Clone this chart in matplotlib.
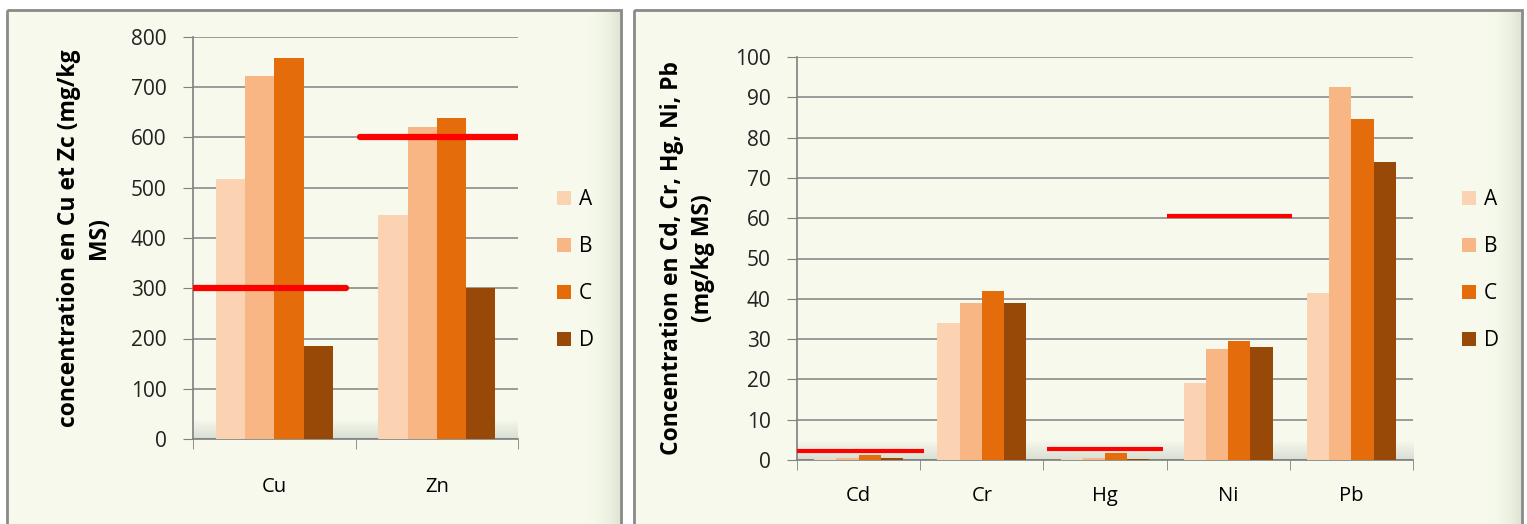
import matplotlib.pyplot as plt
from matplotlib.patches import Rectangle
import numpy as np

plt.rcParams['font.family'] = ['Open Sans', 'DejaVu Sans']

series = ['A', 'B', 'C', 'D']
colors = ['#FCD3B2', '#F9B685', '#E46C0A', '#984807']

# left chart: Cu, Zn
cats1 = ['Cu', 'Zn']
vals1 = {'A': [517, 445], 'B': [722, 620], 'C': [758, 638], 'D': [185, 300]}
limits1 = [300, 600]

# right chart: Cd, Cr, Hg, Ni, Pb
cats2 = ['Cd', 'Cr', 'Hg', 'Ni', 'Pb']
vals2 = {'A': [0.3, 34, 0.3, 19, 41.5],
         'B': [0.5, 39, 0.6, 27.5, 92.5],
         'C': [1.2, 42, 1.7, 29.5, 84.5],
         'D': [0.6, 39, 0.2, 28, 74]}
limits2 = {'Cd': 2.2, 'Hg': 2.7, 'Ni': 60.5}

W, H = 1527, 524
fig = plt.figure(figsize=(W / 100, H / 100), dpi=100)
fig.patch.set_facecolor('white')

# panel backgrounds with a soft bevel shading
bg = fig.add_axes([0, 0, 1, 1])
img = np.ones((H, W, 3))
cream = np.array([0.965, 0.98, 0.925])
shade = np.array([0.80, 0.84, 0.76])
for (x0, x1) in [(7, 621), (634, 1522)]:
    img[10:, x0:x1] = cream
    for i in range(35):
        t = (1 - i / 35) ** 2
        img[10:, x1 - 1 - i] = img[10:, x1 - 1 - i] * (1 - 0.6 * t) + shade * 0.6 * t
bg.imshow(img, extent=[0, W, H, 0], aspect='auto')
bg.add_patch(Rectangle((7, 10), 614, 520, fill=False, ec='#8a8a8a', lw=2))
bg.add_patch(Rectangle((634, 10), 888, 520, fill=False, ec='#8a8a8a', lw=2))
bg.set_xlim(0, W)
bg.set_ylim(H, 0)
bg.axis('off')


def draw(ax, cats, vals, ymax, step, legend_x):
    x = np.arange(len(cats))
    bw = 0.18
    for k, s in enumerate(series):
        ax.bar(x + (k - 1.5) * bw, vals[s], bw, color=colors[k], zorder=3, label=s)
    ax.set_xlim(-0.5, len(cats) - 0.5)
    ax.set_ylim(0, ymax)
    ax.set_yticks(np.arange(0, ymax + 1, step))
    ax.set_xticks(x)
    ax.set_xticklabels(cats, fontsize=14.5)
    ax.set_xticks(np.arange(len(cats) + 1) - 0.5, minor=True)
    ax.tick_params(axis='x', which='minor', length=7, color='#808080', direction='out')
    ax.tick_params(axis='y', length=7, color='#808080', labelsize=15, pad=12,
                   labelcolor='#222222')
    ax.set_facecolor('none')
    ax.grid(axis='y', color='#8c8c8c', lw=1.2, zorder=1)
    # light floor shading at the base of the plot
    grad = np.linspace(0, 1, 50).reshape(-1, 1)
    floor = np.dstack([0.85 + 0.11 * grad, 0.87 + 0.10 * grad, 0.83 + 0.09 * grad])
    ax.imshow(floor, extent=[0, 1, 0, 0.045], transform=ax.transAxes,
              aspect='auto', zorder=0, origin='lower')
    for sp in ['top', 'right']:
        ax.spines[sp].set_visible(False)
    for sp in ['left', 'bottom']:
        ax.spines[sp].set_color('#808080')
        ax.spines[sp].set_linewidth(1.2)
    ax.legend(loc='center left', bbox_to_anchor=(legend_x / W, 1 - 270 / H),
              bbox_transform=fig.transFigure, frameon=False, fontsize=15,
              handlelength=0.65, handleheight=0.65, handletextpad=0.4,
              labelspacing=1.25, borderpad=0, borderaxespad=0)
    return x


ax1 = fig.add_axes([193 / W, 1 - 439 / H, 325 / W, 402 / H])
draw(ax1, cats1, vals1, 800, 100, 557)
ax1.tick_params(axis='x', which='major', length=0, pad=27)
red1 = [(-0.5, 0.44), (0.53, 1.5)]
for (xa, xb), v in zip(red1, limits1):
    ax1.plot([xa, xb], [v, v], color='#ff0000', lw=4.5, solid_capstyle='round', zorder=5)
ax1.set_ylabel('concentration en Cu et Zc (mg/kg\nMS)', fontsize=16.5,
               fontweight='bold', labelpad=14, linespacing=1.35)

ax2 = fig.add_axes([797 / W, 1 - 460 / H, 616 / W, 403 / H])
draw(ax2, cats2, vals2, 100, 10, 1462)
ax2.tick_params(axis='x', which='major', length=0, pad=19)
red2 = {'Cd': (-0.5, 0.53), 'Hg': (1.53, 2.47), 'Ni': (2.5, 3.52)}
for c, v in limits2.items():
    xa, xb = red2[c]
    ax2.plot([xa, xb], [v, v], color='#ff0000', lw=3, solid_capstyle='butt', zorder=5)
ax2.set_ylabel('Concentration en Cd, Cr, Hg, Ni, Pb\n(mg/kg MS)', fontsize=16.5,
               fontweight='bold', labelpad=14, linespacing=1.4)

fig.savefig('out.png', dpi=100)
